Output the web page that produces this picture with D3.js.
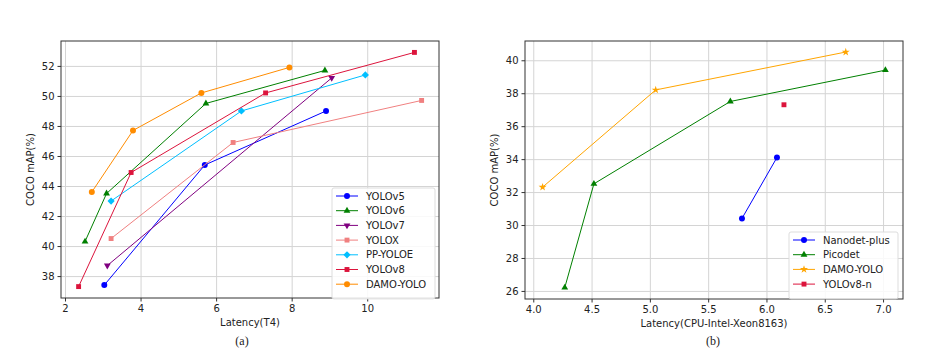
<!DOCTYPE html>
<html>
<head>
<meta charset="utf-8">
<script src="https://cdn.jsdelivr.net/npm/d3@7"></script>
<style>
  body { margin: 0; background: #fff; }
  svg { display: block; }
  text { font-family: "DejaVu Sans", sans-serif; fill: #222; }
  .grid line { stroke: #d4d4d4; stroke-width: 1; }
  .axis path, .axis line { stroke: #333; }
  .cap { font-family: "Liberation Serif", serif; font-size: 12px; }
</style>
</head>
<body>
<svg width="952" height="354"></svg>
<script>
// (a) GPU latency chart
var gpuNames = ["YOLOv5", "YOLOv6", "YOLOv7", "YOLOX", "PP-YOLOE", "YOLOv8", "DAMO-YOLO"];
var gpuColors = ["#0000ff", "#008000", "#800080", "#f08080", "#00bfff", "#dc143c", "#ff8c00"];
var gpuMarkers = ["circle", "triangle", "triangleDown", "square", "diamond", "square", "circle"];
var gpuLatency = [
  [3.04, 5.70, 8.91],
  [2.53, 3.10, 5.73, 8.88],
  [3.12, 9.06],
  [3.22, 6.45, 11.44],
  [3.22, 6.67, 9.95],
  [2.36, 3.75, 7.31, 11.25],
  [2.71, 3.80, 5.61, 7.94]
];
var gpuMap = [
  [37.4, 45.4, 49.0],
  [40.3, 43.5, 49.5, 51.7],
  [38.7, 51.2],
  [40.5, 46.9, 49.7],
  [43.0, 49.0, 51.4],
  [37.3, 44.9, 50.2, 52.9],
  [43.6, 47.7, 50.2, 51.9]
];
var gpuXTicks = [2, 4, 6, 8, 10];
var gpuYTicks = [38, 40, 42, 44, 46, 48, 50, 52];

// (b) CPU latency chart
var cpuNames = ["Nanodet-plus", "Picodet", "DAMO-YOLO", "YOLOv8-n"];
var cpuColors = ["#0000ff", "#008000", "#ffa500", "#dc143c"];
var cpuMarkers = ["circle", "triangle", "star", "square"];
var cpuLatency = [
  [5.79, 6.09],
  [4.27, 4.52, 5.69, 7.02],
  [4.08, 5.05, 6.68],
  [6.15]
];
var cpuMap = [
  [30.4, 34.1],
  [26.2, 32.5, 37.5, 39.4],
  [32.3, 38.2, 40.5],
  [37.3]
];
var cpuXTicks = [4.0, 4.5, 5.0, 5.5, 6.0, 6.5, 7.0];
var cpuYTicks = [26, 28, 30, 32, 34, 36, 38, 40];

var svg = d3.select("svg");

// symbol, size, rotation
var symbolTypes = {
  circle: [d3.symbolCircle, 28, 0],
  triangle: [d3.symbolTriangle, 20, 0],
  triangleDown: [d3.symbolTriangle, 20, 180],
  square: [d3.symbolSquare, 24, 0],
  diamond: [d3.symbolSquare, 26, 45],
  star: [d3.symbolStar, 20, 0]
};

function marker(sel, kind, color) {
  var s = symbolTypes[kind];
  sel.append("path")
    .attr("d", d3.symbol(s[0], s[1])())
    .attr("transform", "rotate(" + s[2] + ")")
    .attr("fill", color);
}

function drawChart(opt) {
  var g = svg.append("g")
      .attr("transform", "translate(" + opt.left + "," + opt.top + ")");
  var width = opt.width, height = opt.height;

  var x = d3.scaleLinear().domain(opt.xDomain).range([0, width]),
      y = d3.scaleLinear().domain(opt.yDomain).range([height, 0]);

  g.append("g")
      .attr("class", "grid")
      .attr("transform", "translate(0," + height + ")")
      .call(d3.axisBottom(x).tickValues(opt.xTicks).tickSize(-height).tickFormat(""))
      .call(function(s) { s.select(".domain").remove(); });
  g.append("g")
      .attr("class", "grid")
      .call(d3.axisLeft(y).tickValues(opt.yTicks).tickSize(-width).tickFormat(""))
      .call(function(s) { s.select(".domain").remove(); });

  g.append("g")
      .attr("class", "axis")
      .attr("transform", "translate(0," + height + ")")
      .call(d3.axisBottom(x).tickValues(opt.xTicks).tickSize(3.5).tickPadding(3).tickFormat(opt.xFormat))
      .call(function(s) { s.select(".domain").remove(); s.selectAll("text").attr("font-size", 10).attr("fill", "#222"); });
  g.append("g")
      .attr("class", "axis")
      .call(d3.axisLeft(y).tickValues(opt.yTicks).tickSize(3.5).tickPadding(3))
      .call(function(s) { s.select(".domain").remove(); s.selectAll("text").attr("font-size", 10).attr("fill", "#222"); });

  g.append("rect")
      .attr("width", width).attr("height", height)
      .attr("fill", "none").attr("stroke", "#333").attr("stroke-width", 1);

  var line = d3.line()
      .x(function(d) { return x(d[0]); })
      .y(function(d) { return y(d[1]); });

  opt.names.forEach(function(name, i) {
    var pts = opt.xs[i].map(function(v, j) { return [v, opt.ys[i][j]]; });
    g.append("path")
        .datum(pts)
        .attr("fill", "none")
        .attr("stroke", opt.colors[i])
        .attr("stroke-width", 1)
        .attr("d", line);
    pts.forEach(function(p) {
      var m = g.append("g").attr("transform", "translate(" + x(p[0]) + "," + y(p[1]) + ")");
      marker(m, opt.markers[i], opt.colors[i]);
    });
  });

  // legend
  var lg = g.append("g")
      .attr("transform", "translate(" + opt.legend[0] + "," + opt.legend[1] + ")");
  lg.append("rect")
      .attr("width", opt.legend[2]).attr("height", 8 + opt.names.length * 14.7)
      .attr("rx", 2)
      .attr("fill", "#fff").attr("fill-opacity", 0.85)
      .attr("stroke", "#ddd");
  opt.names.forEach(function(name, i) {
    var row = lg.append("g").attr("transform", "translate(0," + (8 + i * 14.7) + ")");
    row.append("line")
        .attr("x1", 4).attr("x2", 26)
        .attr("stroke", opt.colors[i]).attr("stroke-width", 1);
    var m = row.append("g").attr("transform", "translate(15,0)");
    marker(m, opt.markers[i], opt.colors[i]);
    row.append("text")
        .attr("x", 34).attr("dy", "0.35em")
        .attr("font-size", 10)
        .text(name);
  });

  g.append("text")
      .attr("x", width / 2).attr("y", height + 28)
      .attr("text-anchor", "middle")
      .attr("font-size", 10)
      .text(opt.xLabel);
  g.append("text")
      .attr("transform", "rotate(-90)")
      .attr("x", -height / 2).attr("y", opt.yLabelX)
      .attr("text-anchor", "middle")
      .attr("font-size", 10)
      .text("COCO mAP(%)");
  svg.append("text")
      .attr("class", "cap")
      .attr("x", opt.left + opt.capX).attr("y", 345)
      .attr("text-anchor", "middle")
      .text(opt.caption);
}

drawChart({
  left: 61, top: 41, width: 378, height: 257,
  xDomain: [1.894, 11.90], yDomain: [36.54, 53.66],
  xTicks: gpuXTicks, yTicks: gpuYTicks, xFormat: d3.format("d"),
  names: gpuNames, colors: gpuColors, markers: gpuMarkers,
  xs: gpuLatency, ys: gpuMap,
  legend: [271, 147, 103],
  xLabel: "Latency(T4)", yLabelX: -27, caption: "(a)", capX: 181
});

drawChart({
  left: 525, top: 41, width: 378, height: 258,
  xDomain: [3.929, 7.171], yDomain: [25.51, 41.17],
  xTicks: cpuXTicks, yTicks: cpuYTicks, xFormat: d3.format(".1f"),
  names: cpuNames, colors: cpuColors, markers: cpuMarkers,
  xs: cpuLatency, ys: cpuMap,
  legend: [264, 191, 109],
  xLabel: "Latency(CPU-Intel-Xeon8163)", yLabelX: -27, caption: "(b)", capX: 188
});
</script>
</body>
</html>
